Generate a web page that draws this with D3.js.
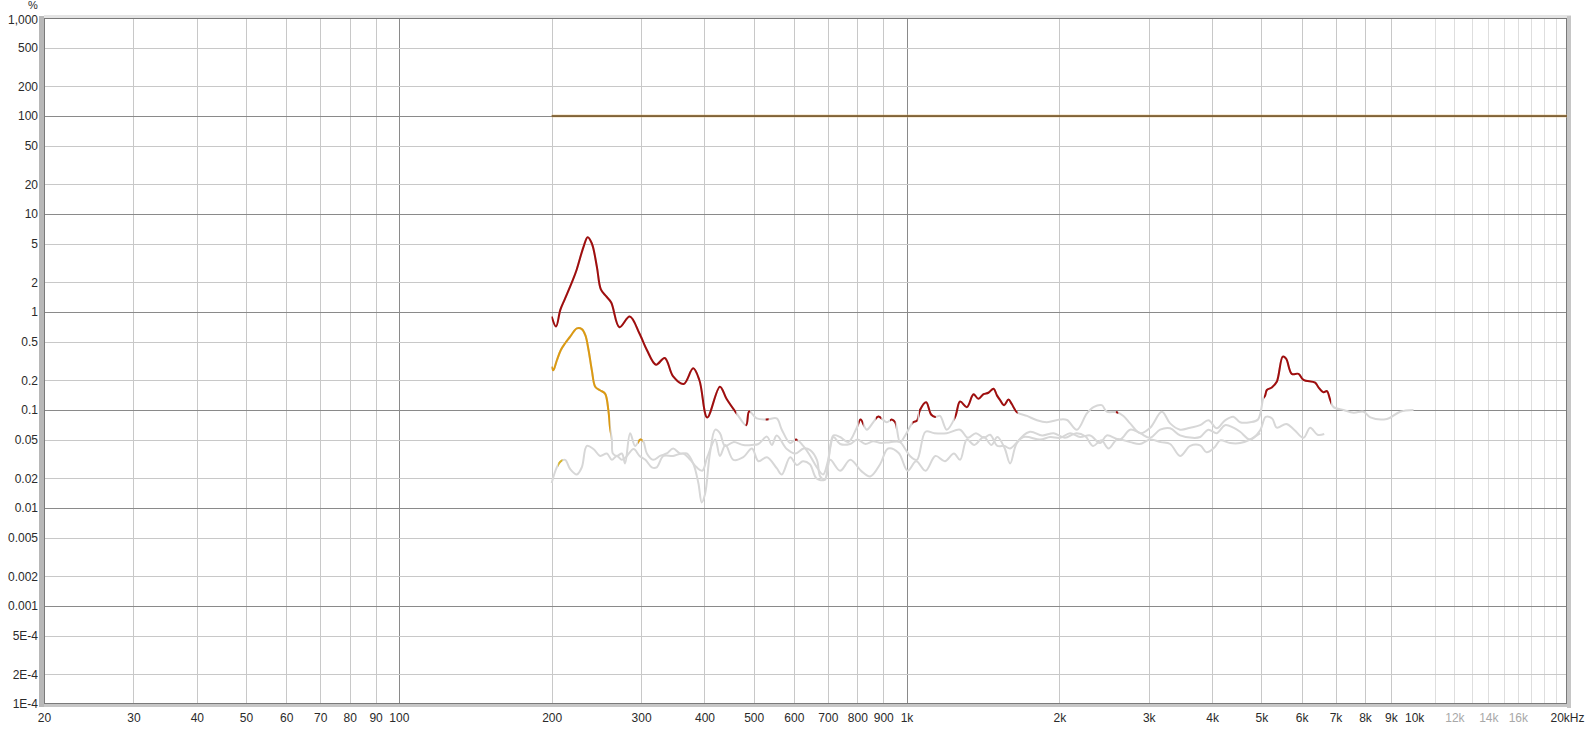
<!DOCTYPE html>
<html><head><meta charset="utf-8">
<script src="https://cdn.jsdelivr.net/npm/d3@7/dist/d3.min.js"></script>
<style>
html,body{margin:0;padding:0;background:#fff;}
svg{display:block;font-family:"Liberation Sans",Arial,sans-serif;}
</style></head>
<body>
<svg id="chart" width="1590" height="729"></svg>
<script>
// ---------- DATA ----------
const xTickValues = [20,30,40,50,60,70,80,90,100,200,300,400,500,600,700,800,900,1000,2000,3000,4000,5000,6000,7000,8000,9000,10000,12000,14000,16000,20000];
const xTickLabels = ["20","30","40","50","60","70","80","90","100","200","300","400","500","600","700","800","900","1k","2k","3k","4k","5k","6k","7k","8k","9k","10k","12k","14k","16k","20kHz"];
const xFadedLabels = ["12k","14k","16k"];
const yTickValues = [1000,500,200,100,50,20,10,5,2,1,0.5,0.2,0.1,0.05,0.02,0.01,0.005,0.002,0.001,0.0005,0.0002,0.0001];
const yTickLabels = ["1,000","500","200","100","50","20","10","5","2","1","0.5","0.2","0.1","0.05","0.02","0.01","0.005","0.002","0.001","5E-4","2E-4","1E-4"];

// fundamental reference (100 %)
const fundamental = [[200,100],[20000,100]];

// THD trace (red where above noise, grey otherwise)
const thd = [[200,0.90],[204,0.71],[208,1.05],[212,1.33],[220,2.1],[224,2.7],[231,4.6],[235.5,5.8],[240,5.0],[245.5,2.9],[250,1.7],[256,1.45],[262,1.25],[272,0.70],[285,0.90],[298,0.60],[308,0.41],[321,0.29],[334,0.34],[347,0.22],[364,0.184],[380,0.266],[391,0.20],[405,0.084],[429,0.173],[442,0.13],[463,0.092],[483,0.070],[490,0.097],[507,0.082],[531,0.080],[555,0.082],[568,0.063],[590,0.046],[606,0.050],[626,0.043],[646,0.034],[666,0.026],[685,0.022],[700,0.030],[718,0.055],[740,0.053],[768,0.047],[798,0.066],[812,0.080],[835,0.063],[860,0.075],[880,0.086],[914,0.075],[935,0.080],[950,0.075],[971,0.047],[994,0.055],[1030,0.075],[1049,0.078],[1063,0.10],[1093,0.12],[1118,0.09],[1139,0.085],[1164,0.087],[1200,0.063],[1247,0.085],[1275,0.122],[1315,0.107],[1345,0.137],[1356,0.145],[1386,0.13],[1418,0.145],[1450,0.15],[1484,0.165],[1507,0.141],[1529,0.126],[1557,0.112],[1588,0.128],[1612,0.115],[1650,0.095],[1727,0.087],[1807,0.0785],[1890,0.075],[2007,0.080],[2071,0.079],[2166,0.063],[2266,0.0925],[2335,0.107],[2425,0.112],[2480,0.096],[2596,0.095],[2675,0.087],[2757,0.073],[2887,0.058],[3020,0.066],[3184,0.096],[3306,0.073],[3459,0.063],[3622,0.066],[3787,0.070],[3933,0.0785],[4085,0.065],[4241,0.0785],[4404,0.0855],[4540,0.075],[4751,0.075],[4925,0.080],[5046,0.132],[5086,0.14],[5126,0.16],[5243,0.17],[5362,0.194],[5510,0.35],[5594,0.334],[5740,0.234],[5917,0.234],[6052,0.203],[6382,0.19],[6479,0.17],[6628,0.152],[6731,0.156],[6833,0.127],[6937,0.107],[7262,0.10],[7599,0.094],[7952,0.096],[8197,0.084],[8837,0.081],[9385,0.096],[9970,0.10]];
const thdColoured = [[200,462],[482,492],[528,535],[603,610],[805,822],[870,892],[928,952],[1028,1052],[1058,1142],[1244,1655],[2585,2612],[5060,6860]];

// 2nd harmonic trace (orange where above noise)
const h2 = [[200,0.277],[201.5,0.254],[204.7,0.32],[208.5,0.41],[212.6,0.48],[217.5,0.56],[221,0.63],[224.2,0.68],[229.3,0.67],[233,0.58],[236.4,0.41],[240,0.254],[243.7,0.173],[249,0.159],[254.8,0.147],[258.7,0.0985],[260.6,0.066],[262.8,0.05],[264,0.036],[269,0.034],[275,0.036],[279,0.0285],[285.5,0.058],[292,0.043],[299,0.05],[303,0.048],[308,0.036],[317,0.031],[327,0.034],[337,0.036],[347,0.0405],[358,0.036],[369,0.036],[380,0.0285],[389,0.018],[395,0.0114],[401,0.0139],[410,0.036],[420,0.063],[429,0.058],[439,0.043],[456,0.047],[477,0.044],[496,0.044],[511,0.045],[531,0.0535],[543,0.044],[555,0.055],[581,0.040],[604,0.036],[627,0.0405],[646,0.039],[666,0.031],[676,0.021],[691,0.0195],[707,0.040],[718,0.053],[740,0.045],[774,0.045],[800,0.05],[830,0.045],[860,0.048],[890,0.046],[928,0.047],[971,0.047],[994,0.040],[1016,0.034],[1048,0.031],[1090,0.06],[1135,0.058],[1200,0.058],[1275,0.063],[1320,0.052],[1370,0.058],[1420,0.052],[1461,0.056],[1510,0.043],[1560,0.043],[1600,0.0405],[1700,0.053],[1833,0.05],[1918,0.053],[2007,0.052],[2100,0.058],[2198,0.053],[2300,0.055],[2406,0.046],[2480,0.055],[2635,0.05],[2757,0.063],[2885,0.058],[3019,0.052],[3159,0.063],[3306,0.065],[3459,0.055],[3660,0.052],[3788,0.053],[3930,0.063],[4085,0.058],[4240,0.070],[4404,0.066],[4541,0.060],[4752,0.050],[4973,0.062],[5100,0.085],[5250,0.082],[5362,0.066],[5600,0.072],[5800,0.063],[6052,0.052],[6239,0.066],[6450,0.056],[6650,0.057]];
const h2Coloured = [[200,261],[296,302]];

// 3rd harmonic trace (yellow where above noise)
const h3 = [[200,0.018],[204.7,0.026],[208.5,0.030],[212.6,0.031],[217.5,0.025],[224.2,0.022],[229.3,0.026],[234.6,0.043],[241.7,0.040],[249.2,0.034],[256.9,0.036],[262.8,0.031],[268.8,0.034],[274.9,0.031],[280,0.033],[290,0.040],[298,0.034],[306,0.031],[315,0.026],[322,0.026],[332,0.034],[347,0.034],[363,0.036],[375,0.031],[386,0.026],[396,0.024],[405,0.033],[420,0.050],[429,0.034],[440,0.044],[456,0.031],[477,0.033],[496,0.0405],[511,0.030],[531,0.033],[555,0.0255],[568,0.022],[590,0.033],[608,0.0275],[625,0.030],[645,0.028],[665,0.020],[690,0.0195],[707,0.031],[740,0.024],[775,0.031],[815,0.0238],[848,0.021],[887,0.028],[920,0.0405],[965,0.0365],[1005,0.024],[1045,0.030],[1090,0.024],[1140,0.034],[1190,0.030],[1240,0.036],[1275,0.031],[1315,0.05],[1360,0.044],[1420,0.053],[1470,0.044],[1510,0.053],[1560,0.041],[1600,0.0285],[1650,0.046],[1750,0.06],[1850,0.055],[1950,0.058],[2050,0.052],[2160,0.058],[2250,0.054],[2330,0.043],[2420,0.049],[2500,0.0405],[2600,0.05],[2757,0.047],[2880,0.045],[3020,0.050],[3170,0.047],[3306,0.045],[3459,0.034],[3620,0.043],[3788,0.0435],[3900,0.037],[4050,0.042],[4147,0.049],[4340,0.046],[4541,0.046],[4752,0.05],[4973,0.058]];
const h3Coloured = [[206,210]];

// ---------- CHART ----------
const svg = d3.select("#chart");
const L = 44, R = 1567, T = 18, B = 704;
const x = d3.scaleLog().domain([20,20000]).range([L,R]);
const y = d3.scaleLog().domain([0.0001,1000]).range([B,T]);

// frame shadows
svg.append("rect").attr("x",L).attr("y",T-3).attr("width",R-L+4).attr("height",3).attr("fill","#e4e4e4");
svg.append("rect").attr("x",R).attr("y",T-2).attr("width",4).attr("height",B-T+6).attr("fill","#c6c6c6");
svg.append("rect").attr("x",L-4).attr("y",B).attr("width",R-L+8).attr("height",3).attr("fill","#c6c6c6");
svg.append("rect").attr("x",L-5).attr("y",T-2).attr("width",5).attr("height",B-T+5).attr("fill","#b8b8b8");
svg.append("rect").attr("x",L).attr("y",T).attr("width",R-L).attr("height",B-T).attr("fill","#fff");

const grid = svg.append("g");
// vertical grid
const xGrid = [];
[10,100,1000].forEach(dec => { for (let m=1;m<10;m++){ const f=dec*m; if (f>20 && f<20000) xGrid.push(f);} });
for (let f=11000; f<20000; f+=1000) xGrid.push(f);
grid.selectAll("line.vx").data(xGrid).join("line")
  .attr("x1",d=>Math.round(x(d))+0.5).attr("x2",d=>Math.round(x(d))+0.5)
  .attr("y1",T).attr("y2",B)
  .attr("stroke",d=> (d===100||d===1000||d===10000) ? "#8a8a8a" : (d>10000 ? "#dedede" : "#c8c8c8"))
  .attr("stroke-width",1);
// horizontal grid
grid.selectAll("line.hy").data(yTickValues.filter(v=>v<1000 && v>0.0001)).join("line")
  .attr("x1",L).attr("x2",R)
  .attr("y1",d=>Math.round(y(d))+0.5).attr("y2",d=>Math.round(y(d))+0.5)
  .attr("stroke",d=> Math.abs(Math.log10(d)-Math.round(Math.log10(d)))<1e-6 ? "#8a8a8a" : "#c8c8c8")
  .attr("stroke-width",1);
// plot border
svg.append("rect").attr("x",L+0.5).attr("y",T+0.5).attr("width",R-L-1).attr("height",B-T-1)
  .attr("fill","none").attr("stroke","#7a7a7a").attr("stroke-width",1);

// clip paths for coloured segments
function makeClip(id, ranges){
  const cp = svg.append("clipPath").attr("id",id);
  cp.selectAll("rect").data(ranges).join("rect")
    .attr("x",d=>x(d[0])).attr("width",d=>x(d[1])-x(d[0]))
    .attr("y",T).attr("height",B-T);
}
makeClip("clipThd", thdColoured);
makeClip("clipH2", h2Coloured);
makeClip("clipH3", h3Coloured);

const line = d3.line().x(d=>x(d[0])).y(d=>y(d[1])).curve(d3.curveCatmullRom.alpha(0.5));
const plot = svg.append("g");
const grey = "#d7d7d7";
[h3,h2,thd].forEach(s => {
  plot.append("path").datum(s).attr("d",line).attr("fill","none")
    .attr("stroke",grey).attr("stroke-width",2).attr("stroke-linejoin","round");
});
plot.append("path").datum(h3).attr("d",line).attr("fill","none").attr("clip-path","url(#clipH3)")
  .attr("stroke","#d8b62a").attr("stroke-width",2);
plot.append("path").datum(h2).attr("d",line).attr("fill","none").attr("clip-path","url(#clipH2)")
  .attr("stroke","#dc9a12").attr("stroke-width",2).attr("stroke-linejoin","round");
plot.append("path").datum(thd).attr("d",line).attr("fill","none").attr("clip-path","url(#clipThd)")
  .attr("stroke","#a00e0e").attr("stroke-width",2).attr("stroke-linejoin","round");
// fundamental
plot.append("path").datum(fundamental).attr("d",d3.line().x(d=>x(d[0])).y(d=>y(d[1])))
  .attr("fill","none").attr("stroke","#e8c68a").attr("stroke-width",3).attr("opacity",0.6);
plot.append("path").datum(fundamental).attr("d",d3.line().x(d=>x(d[0])).y(d=>y(d[1])))
  .attr("fill","none").attr("stroke","#6a4a1e").attr("stroke-width",1.6);

// axes
const yAxis = d3.axisLeft(y).tickValues(yTickValues).tickFormat((d,i)=>yTickLabels[i]).tickSize(0).tickPadding(5);
const gy = svg.append("g").attr("transform",`translate(${L-1},0)`).call(yAxis);
gy.select(".domain").remove();
gy.selectAll("text").attr("fill","#2a2a2a").style("font-size","12px").style("font-family","'Liberation Sans',Arial,sans-serif");
// nudge the top label down a touch so it clears the unit mark
gy.selectAll("text").filter((d,i)=>i===0).attr("dy","0.42em");

const xAxis = d3.axisBottom(x).tickValues(xTickValues).tickFormat((d,i)=>xTickLabels[i]).tickSize(0).tickPadding(9);
const gx = svg.append("g").attr("transform",`translate(0,${B})`).call(xAxis);
gx.select(".domain").remove();
gx.selectAll("text").attr("fill",(d,i)=> xFadedLabels.includes(xTickLabels[i]) ? "#a8a8a8" : "#2a2a2a")
  .style("font-size","12px").style("font-family","'Liberation Sans',Arial,sans-serif");

svg.append("text").attr("x",33).attr("y",9).attr("text-anchor","middle")
  .attr("fill","#2a2a2a").style("font-size","11px").text("%");
</script>
</body></html>
